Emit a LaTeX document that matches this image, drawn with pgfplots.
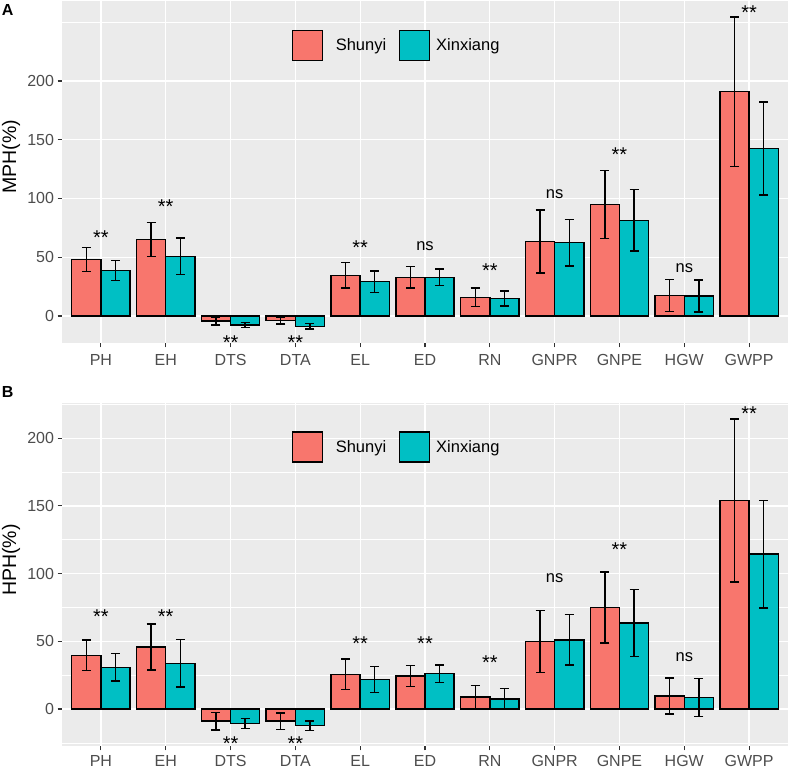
\documentclass[border=0pt]{standalone}
\usepackage{pgfplots}
\pgfplotsset{compat=1.18}
\usepackage{pgfplotstable}
\usepackage{fontspec}
\setmainfont{Liberation Sans}
\definecolor{shunyi}{HTML}{F8766D}
\definecolor{xinx}{HTML}{00BFC4}
\definecolor{panel}{HTML}{EBEBEB}
\definecolor{ticklab}{HTML}{4D4D4D}
\definecolor{tickc}{HTML}{333333}

% MPH: mean and error (Shunyi s, Xinxiang x)
\pgfplotstableread{
x ms es mx ex
1 48.2 10.2 38.6 8.5
2 65.0 14.4 50.8 15.7
3 -4.3 3.4 -7.7 2.1
4 -4.0 3.0 -8.8 2.2
5 34.6 10.9 29.2 9.1
6 32.9 9.2 32.9 7.1
7 15.9 7.8 14.8 6.4
8 63.5 26.8 62.4 19.7
9 95.0 29.0 81.4 26.2
10 17.6 13.6 17.0 13.5
11 190.9 63.5 142.4 39.6
}\mph
\pgfplotstableread{
x y lab
1 61.2 **
2 86.9 **
3 -28.2 **
4 -28.2 **
5 52.3 **
7 33.0 **
9 131.5 **
11 252.0 **
}\mphstar
\pgfplotstableread{
x y lab
6 55.3 ns
8 100.1 ns
10 36.8 ns
}\mphns
% HPH
\pgfplotstableread{
x ms es mx ex
1 39.7 11.3 30.8 10.0
2 45.8 17.0 33.7 17.5
3 -8.9 6.5 -10.8 3.7
4 -8.9 6.0 -12.3 3.5
5 25.6 11.4 21.7 9.7
6 24.4 7.7 26.1 6.5
7 8.9 8.3 7.4 7.6
8 50.0 22.9 51.0 18.6
9 74.9 26.2 63.5 24.6
10 9.6 13.4 8.4 14.0
11 153.9 60.2 114.3 39.6
}\hph
\pgfplotstableread{
x y lab
1 63.4 **
2 63.4 **
3 -30.7 **
4 -30.7 **
5 43.5 **
6 43.0 **
7 29.4 **
9 112.7 **
11 212.9 **
}\hphstar
\pgfplotstableread{
x y lab
8 93.1 ns
10 35.0 ns
}\hphns

\pgfplotsset{
 ggbase/.style={
  scale only axis, width=726pt, xmin=0.4, xmax=11.6,
  axis background/.style={fill=panel},
  axis line style={draw=none},
  tick pos=left, tick align=outside,
  major tick length=4.5pt, minor tick length=0pt,
  tick style={tickc, line width=1.1pt},
  xtick={1,...,11},
  xticklabels={PH,EH,DTS,DTA,EL,ED,RN,GNPR,GNPE,HGW,GWPP},
  ytick={0,50,100,150,200}, yticklabels={0,50,100,150,200},
  grid=major,
  major grid style={white, line width=1.3pt},
  minor grid style={white, line width=0.7pt},
  ticklabel style={font=\fontsize{16}{19}\selectfont, text=ticklab},
  xticklabel style={anchor=base, inner sep=0pt, yshift=-18.2pt},
  clip=false,
  legend image code/.code={\draw[#1, line width=1.5pt] (0pt,-15pt) rectangle (30pt,15pt);},
  legend columns=2,
  legend style={font=\fontsize{16.5}{19}\selectfont, draw=none, fill=none,
    inner sep=0pt, outer sep=0pt, column sep=0pt, anchor=west,
    nodes={inner sep=0pt}},
  ylabel style={font=\fontsize{19.5}{22}\selectfont, anchor=center},
 },
 sbar/.style={ybar, bar width=0.45, bar shift=0, fill=shunyi, draw=black, line width=1.5pt,
   error bars/.cd, y dir=both, y explicit,
   error bar style={black, line width=1.4pt},
   error mark options={rotate=90, mark size=4.5pt, black, line width=1.4pt}},
 xbar2/.style={ybar, bar width=0.45, bar shift=0, fill=xinx, draw=black, line width=1.5pt,
   error bars/.cd, y dir=both, y explicit,
   error bar style={black, line width=1.4pt},
   error mark options={rotate=90, mark size=4.5pt, black, line width=1.4pt}},
 labs/.style={draw=none, forget plot, nodes near coords, point meta=explicit symbolic,
   nodes near coords style={anchor=base, inner sep=0pt, text=black, font=\fontsize{#1}{22}\selectfont}},
}

\begin{document}
\begin{tikzpicture}
\useasboundingbox (0,0) rectangle (790pt,770pt);
% Panel A
\begin{axis}[ggbase, at={(62pt,427pt)}, anchor=south west, height=342pt,
  ymin=-23.0, ymax=268.1,
  extra y ticks={250}, extra y tick labels={},
  extra y tick style={grid=major, major tick length=0pt},
  ylabel={MPH(\%)},
  ylabel style={at={(axis description cs:-0.0702,0.5439)}},
  legend style={at={(axis description cs:0.3164,0.8693)}}]
\addplot[sbar] table[x expr=\thisrow{x}-0.225, y=ms, y error=es] {\mph};
\addlegendentry{\hspace{12.6pt}Shunyi\rule{12.4pt}{0pt}}
\addplot[xbar2] table[x expr=\thisrow{x}+0.225, y=mx, y error=ex] {\mph};
\addlegendentry{\hspace{6pt}Xinxiang}
\addplot[labs=20] table[x=x, y=y, meta=lab] {\mphstar};
\addplot[labs=16.5] table[x=x, y=y, meta=lab] {\mphns};
\end{axis}
% Panel B
\begin{axis}[ggbase, at={(62pt,24pt)}, anchor=south west, height=343pt,
  ymin=-27.3, ymax=226.0,
  xticklabel style={yshift=2.6pt},
  minor ytick={-25,25,75,125,175,225},
  ymajorgrids, yminorgrids,
  ylabel={HPH(\%)},
  ylabel style={at={(axis description cs:-0.0702,0.5423)}},
  legend style={at={(axis description cs:0.3164,0.8717)}}]
\addplot[sbar] table[x expr=\thisrow{x}-0.225, y=ms, y error=es] {\hph};
\addlegendentry{\hspace{12.6pt}Shunyi\rule{12.4pt}{0pt}}
\addplot[xbar2] table[x expr=\thisrow{x}+0.225, y=mx, y error=ex] {\hph};
\addlegendentry{\hspace{6pt}Xinxiang}
\addplot[labs=20] table[x=x, y=y, meta=lab] {\hphstar};
\addplot[labs=16.5] table[x=x, y=y, meta=lab] {\hphns};
\end{axis}
\node[anchor=north west, inner sep=0pt, font=\bfseries\fontsize{16}{19}\selectfont] at (1.7pt,766pt) {A};
\node[anchor=north west, inner sep=0pt, font=\bfseries\fontsize{16}{19}\selectfont] at (1.7pt,383.3pt) {B};
\end{tikzpicture}
\end{document}
